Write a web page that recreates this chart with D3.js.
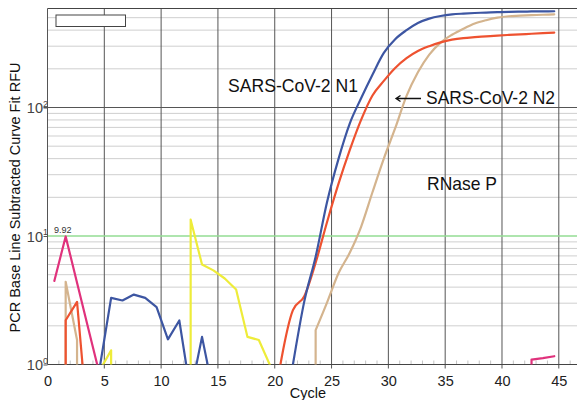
<!DOCTYPE html>
<html><head><meta charset="utf-8">
<script src="https://cdn.jsdelivr.net/npm/d3@7"></script>
<style>body{margin:0;background:#fff}svg{display:block}</style>
</head><body><svg id="c" width="577" height="400"></svg>
<script>
// ---- data ----
const cycles = [0.6,1.6,2.6,3.6,4.6,5.6,6.6,7.6,8.6,9.6,10.6,11.6,12.6,13.6,14.6,15.6,16.6,17.6,18.6,19.6,20.6,21.6,22.6,23.6,24.6,25.6,26.6,27.6,28.6,29.6,30.6,31.6,32.6,33.6,34.6,35.6,36.6,37.6,38.6,39.6,40.6,41.6,42.6,43.6,44.6];
// 0 = non-positive (below log axis)
const rnaseP = [0,4.4,1.55,0,0,0,0,0,0,0,0,0,0,0,0,0,0,0,0,0,0,0,0,1.85,3.03,5.1,7.4,11.8,21.9,40,69,123,188,258,320,368,410,450,478,500,513,518,523,527,531];
const n2 = [0,2.21,3.07,0.3,0,0,0,0,0,0,0,0,0,0,0,0,0,0,0,0.3,1.12,2.65,3.4,6.2,12.8,25.3,46.5,80,124,161,203,242,275,300,321,337,347,353,358,363,367,371,375,379,383];
const n1 = [0,0,0,0,0.95,3.3,3.15,3.5,3.3,2.8,1.57,2.2,0.6,1.64,0.6,0,0,0,0,0,0,1.0,3.1,6.9,18.3,39.5,75,118,180,266,340,400,455,492,515,530,538,544,548,552,555,557,559,560,561];
const ctrlYellow = [0,0,0,0,0.9,1.29,0,0,0,0,0,0,13.4,6.0,5.4,4.67,3.83,1.64,1.55,0.98,0,0,0,0,0,0,0,0,0,0,0,0,0,0,0,0,0,0,0,0,0,0,0,0,0];
const ctrlPink = [4.47,9.92,4.33,1.89,0.83,0,0,0,0,0,0,0,0,0,0,0,0,0,0,0,0,0,0,0,0,0,0,0,0,0,0,0,0,0,0,0,0,0,0,0,0,0,1.09,1.12,1.16];
const xTicks = [0,5,10,15,20,25,30,35,40,45];
const xMinorTicks = [1,2,3,4,6,7,8,9,11,12,13,14,16,17,18,19,21,22,23,24,26,27,28,29,31,32,33,34,36,37,38,39,41,42,43,44,46];
const yTicks = [1,10,100];
const yTickExponents = ["0","1","2"];
const yMinor = [2,3,4,5,6,7,8,9,20,30,40,50,60,70,80,90,200,300,400,500];
const threshold = 10;
const peakLabel = "9.92";
const peakCycle = 1.6, peakValue = 9.92;

const series = [
  {values: rnaseP, color: "#d4b48e"},
  {values: n2, color: "#ee5230"},
  {values: ctrlYellow, color: "#eeec3a"},
  {values: ctrlPink, color: "#e0327c"},
  {values: n1, color: "#3d56a2"}
];

// ---- layout ----
const L = 47.5, R = 577, T = 8.5, B = 364.5;
const x = d3.scaleLinear().domain([0,45]).range([47.5,558.8]);
const y = d3.scaleLog().domain([1,100]).range([364.5,107.5]);
const yv = v => v > 0 ? y(v) : B + 100000;

const svg = d3.select("#c");
const font = "'Liberation Sans', Arial, Helvetica, sans-serif";

svg.append("defs").append("clipPath").attr("id","clip")
  .append("rect").attr("x",L).attr("y",T).attr("width",R-L).attr("height",B-T);

// minor horizontal grid
svg.append("g").selectAll("line").data(yMinor.filter(v => y(v) >= T)).join("line")
  .attr("x1",L).attr("x2",R).attr("y1",d=>y(d)).attr("y2",d=>y(d))
  .attr("stroke","#cfcfcf").attr("stroke-width",1);

// minor x ticks
svg.append("g").selectAll("line").data(xMinorTicks).join("line")
  .attr("x1",d=>x(d)).attr("x2",d=>x(d)).attr("y1",B-4).attr("y2",B)
  .attr("stroke","#c4c4c4").attr("stroke-width",1);

// vertical major grid
svg.append("g").selectAll("line").data(xTicks.filter(d=>d>0)).join("line")
  .attr("x1",d=>x(d)).attr("x2",d=>x(d)).attr("y1",T).attr("y2",B+4)
  .attr("stroke","#555").attr("stroke-width",1);

// decade line 100
svg.append("line").attr("x1",L-4).attr("x2",R).attr("y1",y(100)).attr("y2",y(100))
  .attr("stroke","#555").attr("stroke-width",1);

// threshold line
svg.append("line").attr("x1",L).attr("x2",R).attr("y1",y(threshold)).attr("y2",y(threshold))
  .attr("stroke","#93dd93").attr("stroke-width",1.6);

// frame
svg.append("line").attr("x1",L).attr("x2",R).attr("y1",T).attr("y2",T).attr("stroke","#444");
svg.append("line").attr("x1",L).attr("x2",L).attr("y1",T).attr("y2",B).attr("stroke","#555");
svg.append("line").attr("x1",L).attr("x2",R).attr("y1",B).attr("y2",B).attr("stroke","#444");

// y axis
const ya = svg.append("g").attr("transform",`translate(${L},0)`)
  .call(d3.axisLeft(y).tickValues(yTicks).tickSize(4).tickFormat(()=>"10"));
ya.select(".domain").remove();
ya.selectAll(".tick line").attr("stroke","#555");
ya.selectAll(".tick text").attr("font-family",font).attr("font-size",14.5).attr("fill","#444")
  .attr("x",0.5).attr("dy","0.36em")
  .each(function(d,i){ d3.select(this).append("tspan").attr("font-size",9).attr("dy","-0.7em").text(yTickExponents[i]); });

// x axis labels
const xa = svg.append("g").attr("transform",`translate(0,${B})`)
  .call(d3.axisBottom(x).tickValues(xTicks).tickSize(0).tickFormat(d3.format("d")));
xa.select(".domain").remove();
xa.selectAll(".tick text").attr("font-family",font).attr("font-size",14.5).attr("fill","#222")
  .attr("y",21).attr("dy",0);

// curves: straight segments for noise, smooth for amplification runs
const cg = svg.append("g").attr("clip-path","url(#clip)");
const linLine = d3.line().x(d=>x(d[0])).y(d=>yv(d[1]));
const smoothLine = d3.line().x(d=>x(d[0])).y(d=>yv(d[1])).curve(d3.curveMonotoneX);
function seriesPath(vals){
  const pts = vals.map((v,i)=>[cycles[i], v]);
  let d = "";
  let i = 0;
  while (i < pts.length){
    if (pts[i][1] > 0){
      let j = i; while (j+1 < pts.length && pts[j+1][1] > 0) j++;
      const run = pts.slice(i, j+1);
      const smooth = d3.max(run, p=>p[1]) > 15;
      if (i > 0) d += linLine([pts[i-1], pts[i]]);
      d += (smooth ? smoothLine : linLine)(run);
      if (j+1 < pts.length) d += linLine([pts[j], pts[j+1]]);
      i = j+1;
    } else i++;
  }
  return d;
}
series.forEach(s => {
  cg.append("path").attr("d",seriesPath(s.values))
    .attr("fill","none").attr("stroke",s.color).attr("stroke-width",2.2)
    .attr("stroke-linejoin","round").attr("stroke-linecap","round");
});

// peak label
svg.append("text").attr("x",x(peakCycle)-3).attr("y",y(peakValue)-3.5).attr("text-anchor","middle")
  .attr("font-family",font).attr("font-size",9).attr("fill","#333").text(peakLabel);

// empty legend box
svg.append("rect").attr("x",56).attr("y",15).attr("width",69.5).attr("height",11.5)
  .attr("fill","#fff").attr("stroke","#444").attr("stroke-width",1);

// annotations
const ann = (t, xx, yy, w) => svg.append("text").attr("x",xx).attr("y",yy)
  .attr("font-family",font).attr("font-size",18.5).attr("fill","#111")
  .attr("textLength",w).attr("lengthAdjust","spacingAndGlyphs").text(t);
ann("SARS-CoV-2 N1", 228, 91.5, 130);
ann("SARS-CoV-2 N2", 426, 104, 129);
ann("RNase P", 427, 190, 70);
svg.append("path").attr("d","M421,98.5H396M400.5,95.5L396,98.5L400.5,101.5")
  .attr("fill","none").attr("stroke","#111").attr("stroke-width",1.3);

// axis titles
svg.append("text").attr("transform","translate(19.5,197.5) rotate(-90)").attr("text-anchor","middle")
  .attr("font-family",font).attr("font-size",14.5).attr("fill","#111")
  .text("PCR Base Line Subtracted Curve Fit RFU");
svg.append("text").attr("x",308).attr("y",397.5).attr("text-anchor","middle")
  .attr("font-family",font).attr("font-size",14.5).attr("fill","#111").text("Cycle");
</script></body></html>
